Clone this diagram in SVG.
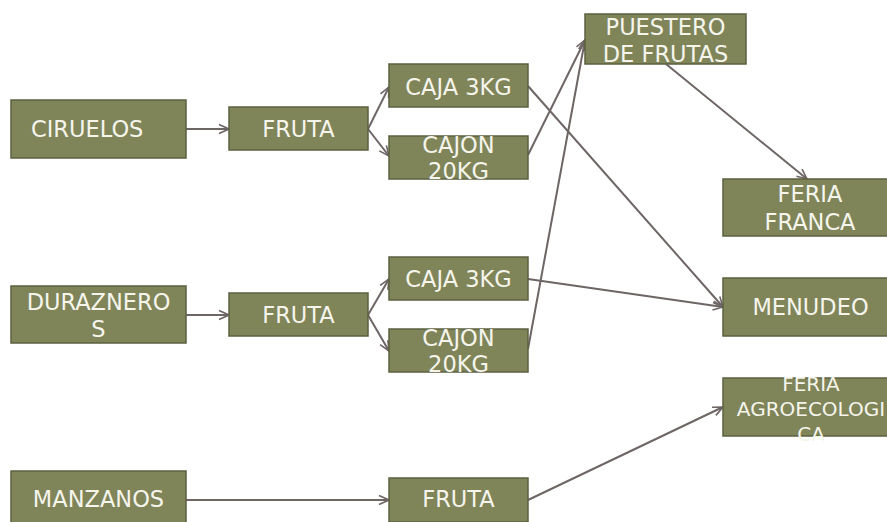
<svg xmlns="http://www.w3.org/2000/svg" width="887" height="522" viewBox="0 0 887 522">
<style>
.box{fill:#7f8459;stroke:#5c6040;stroke-width:1.5}
.t{font-family:"DejaVu Sans",sans-serif;font-size:22.5px;fill:#f5f5ec;text-anchor:middle}
.s{font-size:20px}
.c{fill:none;stroke:#6e6565;stroke-width:2;marker-end:url(#ah)}
</style>
<defs>
<marker id="ah" markerUnits="userSpaceOnUse" markerWidth="12" markerHeight="12" refX="11" refY="6" orient="auto">
<path d="M1,1.5 L11,6 L1,10.5" fill="none" stroke="#6e6565" stroke-width="1.6"/>
</marker>
</defs>
<rect width="887" height="522" fill="#ffffff"/>
<g id="connectors">
<line class="c" x1="186" y1="129" x2="229" y2="129"/>
<line class="c" x1="368" y1="129" x2="389" y2="87"/>
<line class="c" x1="368" y1="129" x2="389" y2="156"/>
<line class="c" x1="186" y1="315" x2="229" y2="315"/>
<line class="c" x1="368" y1="315" x2="389" y2="279"/>
<line class="c" x1="368" y1="315" x2="389" y2="351"/>
<line class="c" x1="186" y1="500" x2="389" y2="500"/>
<line class="c" x1="528" y1="86" x2="723" y2="307"/>
<line class="c" x1="528" y1="155" x2="585" y2="40"/>
<line class="c" x1="528" y1="349" x2="585" y2="40"/>
<line class="c" x1="528" y1="279" x2="723" y2="307"/>
<line class="c" x1="666" y1="64" x2="807" y2="179"/>
<line class="c" x1="528" y1="500" x2="723" y2="407"/>
</g>
<g id="ciruelos"><rect class="box" x="11" y="100" width="175" height="58"/><text class="t" x="31" y="137" style="text-anchor:start">CIRUELOS</text></g>
<g id="fruta1"><rect class="box" x="229" y="107" width="139" height="43"/><text class="t" x="298.5" y="137">FRUTA</text></g>
<g id="caja1"><rect class="box" x="389" y="64" width="139" height="43"/><text class="t" x="458.5" y="95">CAJA 3KG</text></g>
<g id="cajon1"><rect class="box" x="389" y="136" width="139" height="43"/><text class="t" x="458.5" y="153">CAJON</text><text class="t" x="458.5" y="179">20KG</text></g>
<g id="puestero"><rect class="box" x="585" y="14" width="161" height="50"/><text class="t" x="665.5" y="35">PUESTERO</text><text class="t" x="665.5" y="62">DE FRUTAS</text></g>
<g id="feriafranca"><rect class="box" x="723" y="179" width="175" height="57"/><text class="t" x="810" y="202">FERIA</text><text class="t" x="810" y="230">FRANCA</text></g>
<g id="durazneros"><rect class="box" x="11" y="286" width="175" height="57"/><text class="t" x="98.5" y="310">DURAZNERO</text><text class="t" x="98.5" y="337">S</text></g>
<g id="fruta2"><rect class="box" x="229" y="293" width="139" height="43"/><text class="t" x="298.5" y="322.5">FRUTA</text></g>
<g id="caja2"><rect class="box" x="389" y="257" width="139" height="43"/><text class="t" x="458.5" y="286.5">CAJA 3KG</text></g>
<g id="cajon2"><rect class="box" x="389" y="329" width="139" height="43"/><text class="t" x="458.5" y="346">CAJON</text><text class="t" x="458.5" y="372">20KG</text></g>
<g id="menudeo"><rect class="box" x="723" y="278" width="175" height="58"/><text class="t" x="810.5" y="315">MENUDEO</text></g>
<g id="feriaagro"><rect class="box" x="723" y="378" width="175" height="58"/><text class="t s" x="811" y="391">FERIA</text><text class="t s" x="811" y="416">AGROECOLOGI</text><text class="t s" x="811" y="441">CA</text></g>
<g id="manzanos"><rect class="box" x="11" y="471" width="175" height="58"/><text class="t" x="98.5" y="507">MANZANOS</text></g>
<g id="fruta3"><rect class="box" x="389" y="478" width="139" height="44"/><text class="t" x="458.5" y="507">FRUTA</text></g>
</svg>
